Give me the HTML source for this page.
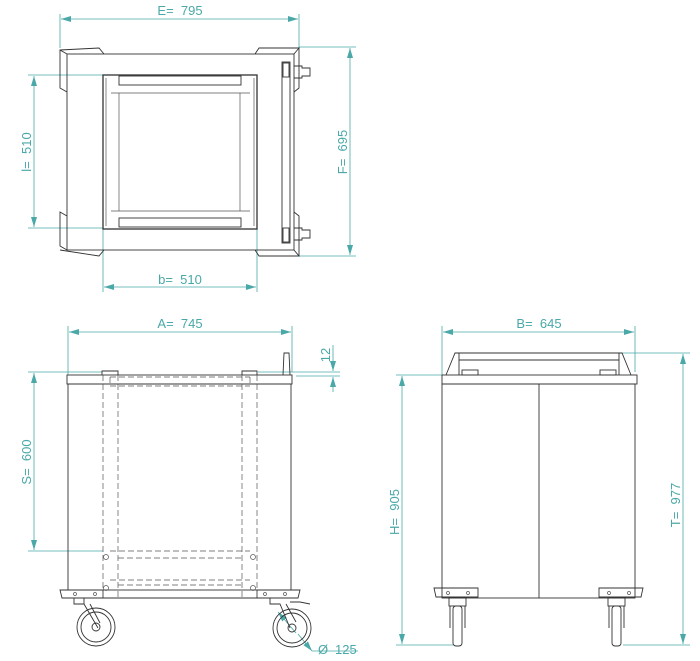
<!DOCTYPE html>
<html><head><meta charset="utf-8"><style>
html,body{margin:0;padding:0;background:#fff;width:700px;height:661px;overflow:hidden}
svg{display:block}
.d{stroke:#4aa8a8;stroke-width:0.8;fill:none}
.t{fill:#4aa8a8;font-family:"Liberation Sans",sans-serif;font-size:13px}
.k{stroke:#333;stroke-width:0.9;fill:none}
.g{stroke:#555;stroke-width:0.7;fill:none}
.h{stroke:#555;stroke-width:0.7;fill:none;stroke-dasharray:6,3}
</style></head><body>
<svg width="700" height="661" viewBox="0 0 700 661" xmlns="http://www.w3.org/2000/svg">
<defs>
<marker id="a" viewBox="0 0 10 6" refX="10" refY="3" markerWidth="10" markerHeight="6" orient="auto-start-reverse" markerUnits="userSpaceOnUse"><path d="M0,0 L10,3 L0,6 z" fill="#4aa8a8"/></marker>
</defs>

<!-- ===== TOP VIEW ===== -->
<g class="d">
<line x1="60" y1="14" x2="60" y2="48"/><line x1="299" y1="14" x2="299" y2="48"/>
<line x1="61" y1="19" x2="298" y2="19" marker-start="url(#a)" marker-end="url(#a)"/>
<line x1="299" y1="47" x2="356" y2="47"/><line x1="299" y1="256" x2="356" y2="256"/>
<line x1="350" y1="48" x2="350" y2="255" marker-start="url(#a)" marker-end="url(#a)"/>
<line x1="28" y1="75" x2="103" y2="75"/><line x1="28" y1="228" x2="103" y2="228"/>
<line x1="34" y1="76" x2="34" y2="227" marker-start="url(#a)" marker-end="url(#a)"/>
<line x1="103" y1="229" x2="103" y2="292"/><line x1="257" y1="229" x2="257" y2="292"/>
<line x1="104" y1="287" x2="256" y2="287" marker-start="url(#a)" marker-end="url(#a)"/>
</g>
<text class="t" x="180" y="15" text-anchor="middle">E=&#160; 795</text>
<text class="t" x="180" y="284" text-anchor="middle">b=&#160; 510</text>
<text class="t" transform="translate(347,152) rotate(-90)" text-anchor="middle">F=&#160; 695</text>
<text class="t" transform="translate(31,152) rotate(-90)" text-anchor="middle">l=&#160; 510</text>

<g class="k">
<rect x="67" y="54" width="227" height="196"/>
<path d="M67,54 L60,50 L60,88 L67,92"/><path d="M60,50 L99,48 L104,54"/>
<path d="M67,250 L60,246 L60,212 L67,216"/><path d="M60,250 L99,256 L104,250"/>
<path d="M294,54 L299,48 L259,48 L255,54"/><path d="M294,92 L299,88 L299,48"/>
<path d="M294,250 L299,256 L259,256 L255,250"/><path d="M294,212 L299,216 L299,256"/>
<rect x="103" y="75" width="154" height="154" stroke-width="1.3"/>
<rect x="119" y="76" width="122" height="9"/>
<rect x="119" y="218" width="122" height="9"/>
<rect x="282" y="62" width="8" height="181"/>
<rect x="283" y="63" width="6" height="14"/><rect x="283" y="228" width="6" height="14"/>
<path d="M294,66 L302,66 L302,68 L310,68 L310,76 L302,76 L302,78 L294,78"/>
<path d="M294,228 L302,228 L302,230 L310,230 L310,238 L302,238 L302,240 L294,240"/>
</g>
<g class="g">
<line x1="111" y1="93" x2="250" y2="93"/><line x1="111" y1="211" x2="250" y2="211"/>
<line x1="119" y1="93" x2="119" y2="211"/><line x1="240" y1="93" x2="240" y2="211"/>
<line x1="106" y1="78" x2="106" y2="226"/><line x1="254" y1="78" x2="254" y2="226"/>
</g>

<!-- ===== FRONT LEFT VIEW ===== -->
<g class="d">
<line x1="68" y1="326" x2="68" y2="375"/><line x1="292" y1="326" x2="292" y2="372"/>
<line x1="69" y1="332" x2="291" y2="332" marker-start="url(#a)" marker-end="url(#a)"/>
<line x1="258" y1="372" x2="340" y2="372"/><line x1="296" y1="376" x2="340" y2="376"/>
<line x1="333" y1="345" x2="333" y2="371" marker-end="url(#a)"/>
<line x1="333" y1="392" x2="333" y2="377" marker-end="url(#a)"/>
<line x1="28" y1="372" x2="102" y2="372"/><line x1="28" y1="551" x2="103" y2="551"/>
<line x1="34" y1="373" x2="34" y2="550" marker-start="url(#a)" marker-end="url(#a)"/>
<line x1="278" y1="612" x2="296" y2="633" marker-start="url(#a)"/>
<line x1="312" y1="651" x2="298" y2="634" marker-start="url(#a)"/>
<line x1="312" y1="651" x2="358" y2="651"/>
</g>
<text class="t" x="180" y="328" text-anchor="middle">A=&#160; 745</text>
<text class="t" transform="translate(330,355) rotate(-90)" text-anchor="middle">12</text>
<text class="t" transform="translate(31,462) rotate(-90)" text-anchor="middle">S=&#160; 600</text>
<text class="t" x="318" y="654" font-size="15">Ø</text>
<text class="t" x="335" y="654">125</text>

<g class="k">
<rect x="67" y="375" width="225" height="9"/>
<rect x="68" y="384" width="223" height="206"/>
<path d="M102,375 L102,371 L118,371 L118,375"/><path d="M242,375 L242,371 L257,371 L257,375"/>
<path d="M283,375 L284,353 L289,353 L290,375"/>
<path d="M60,590 L103,590 L103,598 L62,598 Z"/><path d="M257,590 L300,590 L298,598 L257,598 Z"/>
<line x1="103" y1="598" x2="257" y2="598"/>
<circle cx="96" cy="627" r="19"/><circle cx="96" cy="627" r="15"/><circle cx="96" cy="627" r="4"/>
<path d="M74,598 L74,604 L84,604 L98,628 M90,604 L100,623 M84,598 L84,604"/>
<circle cx="292" cy="628" r="19"/><circle cx="292" cy="628" r="15"/><circle cx="292" cy="628" r="4"/>
<path d="M270,598 L270,604 L280,604 L290,628 M286,604 L296,622 M290,602 L300,602 L310,604"/>
</g>
<g class="g">
<circle cx="75" cy="594" r="1.5"/><circle cx="95" cy="594" r="1.5"/>
<circle cx="265" cy="594" r="1.5"/><circle cx="285" cy="594" r="1.5"/>
<circle cx="106" cy="557" r="2.5"/><circle cx="253" cy="557" r="2.5"/>
<circle cx="106" cy="588" r="2.5"/><circle cx="253" cy="588" r="2.5"/>
</g>
<g class="h">
<line x1="103" y1="375" x2="103" y2="598"/><line x1="118" y1="375" x2="118" y2="598"/>
<line x1="242" y1="375" x2="242" y2="598"/><line x1="257" y1="375" x2="257" y2="598"/>
<line x1="110" y1="377" x2="250" y2="377"/><line x1="110" y1="386" x2="250" y2="386"/>
<line x1="110" y1="551" x2="250" y2="551"/><line x1="118" y1="558" x2="242" y2="558"/>
<line x1="110" y1="580" x2="250" y2="580"/><line x1="118" y1="585" x2="242" y2="585"/>
<line x1="110" y1="377" x2="110" y2="386"/><line x1="250" y1="377" x2="250" y2="386"/>
</g>

<!-- ===== SIDE VIEW ===== -->
<g class="d">
<line x1="442" y1="326" x2="442" y2="375"/><line x1="635" y1="326" x2="635" y2="372"/>
<line x1="443" y1="332" x2="634" y2="332" marker-start="url(#a)" marker-end="url(#a)"/>
<line x1="396" y1="375" x2="442" y2="375"/>
<line x1="402" y1="376" x2="402" y2="644" marker-start="url(#a)" marker-end="url(#a)"/>
<line x1="620" y1="353" x2="690" y2="353"/>
<line x1="683" y1="354" x2="683" y2="644" marker-start="url(#a)" marker-end="url(#a)"/>
<line x1="396" y1="645" x2="453" y2="645"/><line x1="623" y1="645" x2="690" y2="645"/>
</g>
<text class="t" x="539" y="328" text-anchor="middle">B=&#160; 645</text>
<text class="t" transform="translate(399,512) rotate(-90)" text-anchor="middle">H=&#160; 905</text>
<text class="t" transform="translate(680,505) rotate(-90)" text-anchor="middle">T=&#160; 977</text>

<g class="k">
<path d="M446,375 L455,353 L622,353 L631,375"/>
<line x1="459" y1="353" x2="459" y2="375"/><line x1="619" y1="353" x2="619" y2="375"/>
<line x1="459" y1="360" x2="619" y2="360"/>
<rect x="462" y="370" width="16" height="5"/><rect x="600" y="370" width="16" height="5"/>
<rect x="442" y="375" width="195" height="9"/>
<rect x="442" y="384" width="193" height="214"/>
<line x1="539" y1="384" x2="539" y2="598"/>
<path d="M434,588 L478,588 L478,597 L436,597 Z"/><path d="M599,588 L643,588 L641,597 L599,597 Z"/>
<rect x="449" y="598" width="17" height="8"/><rect x="608" y="598" width="17" height="8"/>
<path d="M450,606 L450,628 M465,606 L465,628 M609,606 L609,628 M624,606 L624,628"/>
<rect x="453" y="606" width="9" height="40" rx="3"/><rect x="612" y="606" width="9" height="40" rx="3"/>
</g>
<g class="g">
<circle cx="448" cy="593" r="1.5"/><circle cx="468" cy="593" r="1.5"/>
<circle cx="609" cy="593" r="1.5"/><circle cx="629" cy="593" r="1.5"/>
</g>
</svg>
</body></html>
